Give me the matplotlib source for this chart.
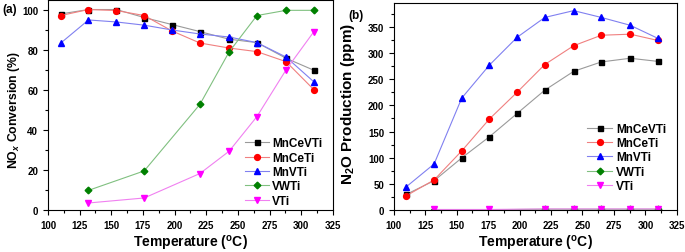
import matplotlib.pyplot as plt
from matplotlib.ticker import MultipleLocator

plt.rcParams['font.family'] = ['Liberation Sans', 'DejaVu Sans']
plt.rcParams['font.weight'] = 'bold'
plt.rcParams['axes.labelweight'] = 'bold'
plt.rcParams['mathtext.fontset'] = 'custom'
plt.rcParams['mathtext.rm'] = 'Liberation Sans:bold'
plt.rcParams['mathtext.it'] = 'Liberation Sans:bold:italic'
plt.rcParams['mathtext.bf'] = 'Liberation Sans:bold'

# temperatures (C)
temps = [110, 132, 154, 176, 198, 220, 243, 265, 288, 310]
temps_v = [132, 176, 220, 243, 265, 288, 310]

# (a) NOx conversion (%)
conv_mncevti = [97.8, 100, 100, 96, 92.5, 89, 85.2, 83.5, 75.7, 69.7]
conv_mnceti = [97, 100, 99.5, 97, 89.3, 83.3, 80.8, 79, 74, 60]
conv_mnvti = [83.2, 94.8, 93.8, 92.2, 89.8, 87.8, 86.3, 83.5, 76.3, 63.9]
conv_vwti = [9.8, 19.5, 52.7, 78.8, 97, 99.6, 99.6]
conv_vti = [3.5, 6, 18.2, 29.3, 46.6, 69.9, 89]

# (b) N2O production (ppm)
n2o_mncevti = [30, 56, 99.6, 140, 184.5, 229, 265, 283, 290, 284]
n2o_mnceti = [27.4, 57.5, 113, 174, 225, 278, 314, 334, 336, 324]
n2o_mnvti = [44.6, 88, 214, 277, 330, 368, 381, 368, 353, 328]
n2o_vwti = [0.5, 0.5, 1.5, 1.5, 1.5, 1.5, 1.5]
n2o_vti = [1, 1, 2, 2, 2, 2, 2]

names = ['MnCeVTi', 'MnCeTi', 'MnVTi', 'VWTi', 'VTi']
mcolors = ['black', 'red', 'blue', 'green', 'magenta']
lcolors = ['#9a9a9a', '#f08080', '#8080f0', '#80c080', '#f080f0']
markers = ['s', 'o', '^', 'D', 'v']
msizes = [3.6, 4.2, 4.2, 3.4, 4.2]

fig = plt.figure(figsize=(6.85, 2.53), dpi=100)
ax1 = fig.add_axes([0.070, 0.166, 0.416, 0.832])
ax2 = fig.add_axes([0.575, 0.166, 0.413, 0.819])

series_a = [(temps, conv_mncevti), (temps, conv_mnceti), (temps, conv_mnvti),
            (temps_v, conv_vwti), (temps_v, conv_vti)]
series_b = [(temps, n2o_mncevti), (temps, n2o_mnceti), (temps, n2o_mnvti),
            (temps_v, n2o_vwti), (temps_v, n2o_vti)]

for ax, series in [(ax1, series_a), (ax2, series_b)]:
    for i, (xs, ys) in enumerate(series):
        ax.plot(xs, ys, color=lcolors[i], lw=0.8, marker=markers[i],
                ms=msizes[i], mfc=mcolors[i], mec=mcolors[i], label=names[i])
    ax.set_xlim(100, 325)
    ax.xaxis.set_major_locator(MultipleLocator(25))
    ax.xaxis.set_minor_locator(MultipleLocator(12.5))
    ax.tick_params(which='both', direction='out', labelsize=7, width=0.8)
    ax.tick_params(which='major', length=3.5)
    ax.tick_params(which='minor', length=2)
    for s in ax.spines.values():
        s.set_linewidth(0.8)
    ax.set_xlabel(r'Temperature ($^{\mathrm{o}}$C)', fontsize=10,
                  fontweight='bold', labelpad=2.5)

ax1.set_ylim(0, 105)
ax1.yaxis.set_major_locator(MultipleLocator(20))
ax1.yaxis.set_minor_locator(MultipleLocator(10))
ax1.set_ylabel(r'NO$_{\mathit{x}}$ Conversion (%)', fontsize=8.8,
               fontweight='bold')
ax1.yaxis.set_label_coords(-0.09, 0.48)
leg1 = ax1.legend(frameon=False, fontsize=8.5, handlelength=2.0,
                  handletextpad=0.3, labelspacing=0.2, loc='lower right',
                  bbox_to_anchor=(1.0, -0.035))

ax2.set_ylim(0, 396)
ax2.yaxis.set_major_locator(MultipleLocator(50))
ax2.yaxis.set_minor_locator(MultipleLocator(25))
ax2.set_ylabel(r'N$_2$O Production (ppm)', fontsize=11, fontweight='bold')
ax2.yaxis.set_label_coords(-0.13, 0.515)
leg2 = ax2.legend(frameon=False, fontsize=8.5, handlelength=2.2,
                  handletextpad=0.3, labelspacing=0.2, loc='lower right',
                  bbox_to_anchor=(1.0, 0.035))
for leg in (leg1, leg2):
    for t in leg.get_texts():
        t.set_fontweight('bold')

for ax in (ax1, ax2):
    for lab in ax.get_xticklabels() + ax.get_yticklabels():
        lab.set_fontweight('bold')

fig.text(0.003, 0.985, '(a)', fontsize=8.5, fontweight='bold', va='top')
fig.text(0.508, 0.96, '(b)', fontsize=8.5, fontweight='bold', va='top')

fig.savefig('out.png', dpi=100)
